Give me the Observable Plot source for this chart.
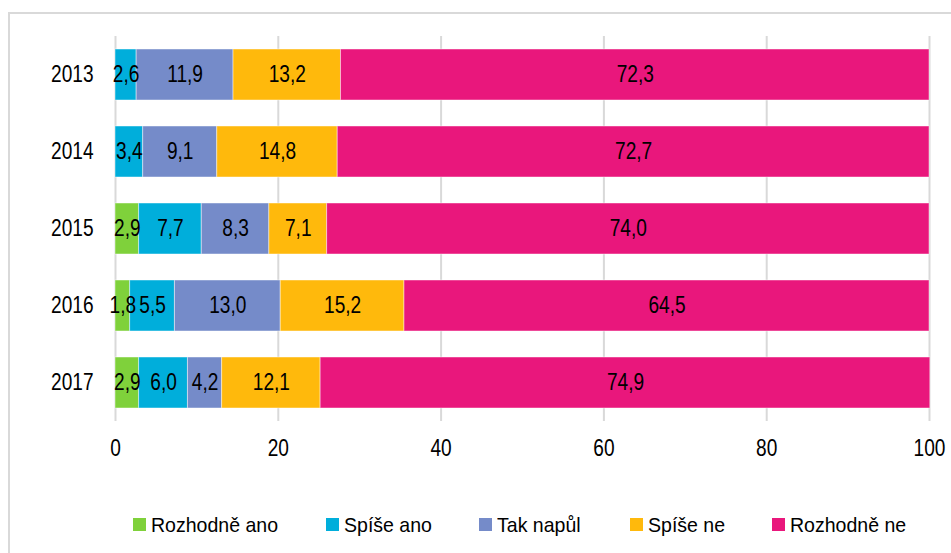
<!DOCTYPE html>
<html>
<head>
<meta charset="utf-8">
<script src="https://cdn.jsdelivr.net/npm/d3@7"></script>
<script src="https://cdn.jsdelivr.net/npm/@observablehq/plot@0.6"></script>
<style>
  html, body { margin: 0; padding: 0; background: #fff; }
  body { width: 951px; height: 553px; position: relative; overflow: hidden;
         font-family: "Liberation Sans", Arial, sans-serif; }
  #frame { position: absolute; left: 8px; top: 12px; width: 1000px; height: 1000px;
           border: 2px solid #d9d9d9; box-sizing: border-box; }
  #chart { position: absolute; left: 0; top: 0; }
  .item { position: absolute; top: 514px; height: 22px; }
  .sw { position: absolute; left: 0; top: 4px; width: 13px; height: 13px; }
  .lt { position: absolute; left: 18px; top: 0; font-size: 21px; line-height: 22px; white-space: nowrap;
        color: #000; transform: scaleX(0.93); transform-origin: left center; }
</style>
</head>
<body>
<div id="frame"></div>
<div id="chart"></div>
<div id="legend"></div>
<script>
const years = ["2013", "2014", "2015", "2016", "2017"];
const categories = ["Rozhodně ano", "Spíše ano", "Tak napůl", "Spíše ne", "Rozhodně ne"];
const colors = ["#7fd13b", "#00aedb", "#758bc9", "#ffb90c", "#e9177c"];
const rozhodneAno = [0, 0, 2.9, 1.8, 2.9];
const spiseAno    = [2.6, 3.4, 7.7, 5.5, 6.0];
const takNapul    = [11.9, 9.1, 8.3, 13.0, 4.2];
const spiseNe     = [13.2, 14.8, 7.1, 15.2, 12.1];
const rozhodneNe  = [72.3, 72.7, 74.0, 64.5, 74.9];
const xTicks = [0, 20, 40, 60, 80, 100];

const seriesValues = [rozhodneAno, spiseAno, takNapul, spiseNe, rozhodneNe];
const data = [];
years.forEach((y, i) => {
  categories.forEach((c, j) => {
    data.push({ year: y, cat: c, value: seriesValues[j][i] });
  });
});
const fmt = v => v.toFixed(1).replace(".", ",");
const font = '"Liberation Sans", Arial, sans-serif';

const chart = Plot.plot({
  width: 951,
  height: 480,
  marginLeft: 115,
  marginRight: 22,
  marginTop: 36,
  marginBottom: 59,
  style: { fontFamily: font, fontSize: "23px", color: "#000", background: "transparent" },
  x: { domain: [0, 100], ticks: xTicks, tickSize: 0, tickPadding: 18, label: null },
  y: { domain: years, paddingInner: 0.34, paddingOuter: 0.17, tickSize: 0, tickPadding: 22, label: null },
  color: { domain: categories, range: colors },
  marks: [
    Plot.gridX(xTicks, { stroke: "#d9d9d9", strokeOpacity: 1, strokeWidth: 2 }),
    Plot.barX(data, Plot.stackX({
      x: "value", y: "year", fill: "cat", order: categories,
      stroke: "#ffffff", strokeOpacity: 0.45, strokeWidth: 1
    })),
    Plot.text(data, Plot.stackX({
      x: "value", y: "year", z: "cat", order: categories,
      text: d => d.value > 0 ? fmt(d.value) : "",
      fill: "#000", fontSize: 23, fontFamily: font
    }))
  ]
});
document.getElementById("chart").appendChild(chart);

// condense text horizontally (narrow face look)
chart.querySelectorAll("text").forEach(t => {
  const len = t.getComputedTextLength();
  if (len > 0) {
    t.setAttribute("textLength", (len * 0.83).toFixed(2));
    t.setAttribute("lengthAdjust", "spacingAndGlyphs");
  }
});

const legendLeft = [133, 326, 479, 630, 772];
const legend = document.getElementById("legend");
categories.forEach((c, j) => {
  const it = document.createElement("div");
  it.className = "item";
  it.style.left = legendLeft[j] + "px";
  const sw = document.createElement("div");
  sw.className = "sw";
  sw.style.background = colors[j];
  const t = document.createElement("span");
  t.className = "lt";
  t.textContent = c;
  it.appendChild(sw);
  it.appendChild(t);
  legend.appendChild(it);
});
</script>
</body>
</html>
